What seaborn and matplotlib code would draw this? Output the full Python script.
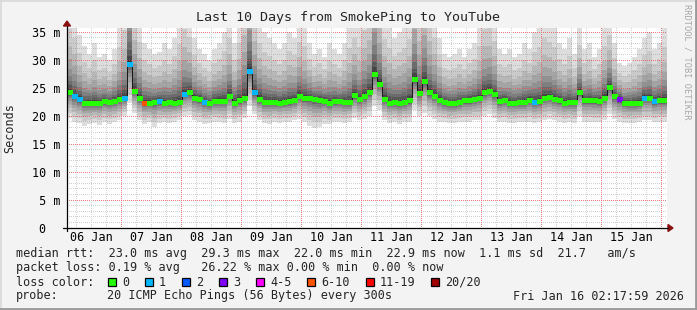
import matplotlib
matplotlib.use("Agg")
import matplotlib.pyplot as plt
import seaborn as sns
import numpy as np
import pandas as pd
from datetime import datetime, timedelta
import matplotlib.dates as mdates
from matplotlib.patches import Rectangle, Polygon
from matplotlib.lines import Line2D

# ---------------- data ----------------
title = "Last 10 Days from SmokePing to YouTube"
ylabel = "Seconds"
start = datetime(2026, 1, 6, 2, 17, 59)
step_hours = 2

median_ms = [24.2, 23.5, 23.0, 22.3, 22.4, 22.3, 22.4, 22.6, 22.5, 22.6,
             23.0, 23.3, 29.3, 24.5, 23.2, 22.4, 22.4, 22.5, 22.6, 22.4,
             22.5, 22.4, 22.5, 23.9, 24.2, 23.2, 23.0, 22.5, 22.3, 22.7,
             22.7, 22.7, 23.6, 22.4, 22.8, 23.2, 28.1, 24.2, 23.1, 22.5,
             22.5, 22.5, 22.4, 22.5, 22.6, 22.9, 23.6, 23.2, 23.2, 23.0,
             22.8, 22.7, 22.3, 22.6, 22.6, 22.5, 22.5, 23.7, 23.0, 23.5,
             24.3, 27.5, 25.8, 23.0, 22.4, 22.5, 22.3, 22.5, 22.8, 26.6,
             24.1, 26.2, 24.2, 23.6, 22.9, 22.5, 22.3, 22.3, 22.5, 22.8,
             22.8, 23.0, 23.2, 24.2, 24.5, 23.9, 22.6, 22.9, 22.4, 22.4,
             22.5, 22.5, 22.9, 22.5, 22.6, 23.2, 23.4, 23.0, 22.8, 22.4,
             22.5, 22.5, 24.3, 22.8, 22.8, 22.8, 22.6, 23.3, 25.2, 23.5,
             23.0, 22.4, 22.3, 22.3, 22.4, 23.2, 23.2, 22.6, 22.8, 22.8]

max_ms = [40, 38, 34.5, 32.5, 31, 33, 30.5, 31, 30, 32,
          36, 40, 60, 42, 37, 33, 32, 31, 31.5, 33,
          32, 34, 37, 40, 38, 34, 32, 31, 30, 32,
          33, 35, 38, 33, 37, 45, 55, 42, 37, 35,
          34, 33, 32, 33, 35, 34, 37, 36, 33, 31,
          32, 30.5, 33, 32, 31, 33, 36, 38, 36, 40,
          42, 55, 45, 38, 36, 34, 35, 36, 38, 50,
          42, 48, 42, 38, 34, 31, 30.5, 31, 32, 30.5,
          32, 33, 36, 40, 40, 37, 32, 31, 32, 30.5,
          31, 33, 32, 35, 36, 38, 37, 36, 33, 32,
          34, 31, 36, 32, 33, 30.5, 32, 36, 38, 33,
          29.5, 29, 29.5, 30.5, 32, 34, 35, 32, 33, 36]

min_ms = [19.6, 19.0, 18.7, 18.3, 18.5, 18.8, 18.4, 18.9, 18.6, 19.0,
          19.3, 20.0, 22.3, 20.6, 19.3, 18.6, 18.9, 18.0, 18.7, 18.9,
          18.8, 19.0, 19.3, 20.0, 20.1, 19.3, 19.0, 18.6, 18.8, 19.0,
          18.9, 18.7, 19.5, 18.8, 19.0, 19.6, 21.7, 20.3, 19.3, 18.8,
          18.6, 18.9, 18.8, 19.0, 18.9, 19.2, 19.5, 19.0, 18.2, 17.8,
          18.0, 18.6, 18.6, 18.9, 19.0, 18.8, 18.9, 19.7, 19.3, 19.5,
          20.0, 21.7, 21.1, 19.3, 18.8, 18.9, 18.6, 18.9, 19.0, 21.0,
          20.0, 20.6, 20.0, 19.5, 19.0, 18.9, 18.7, 18.8, 18.9, 19.0,
          19.0, 19.3, 19.3, 20.0, 20.4, 19.7, 18.9, 19.0, 18.8, 18.7,
          18.9, 18.9, 19.0, 18.8, 18.9, 19.3, 19.5, 19.3, 19.0, 18.8,
          18.9, 18.8, 20.0, 19.0, 19.0, 18.9, 18.9, 19.3, 20.4, 19.5,
          19.0, 18.8, 18.7, 18.8, 18.9, 19.3, 19.3, 18.9, 19.0, 19.0]

lost_pings = [0, 1, 1, 0, 0, 0, 0, 0, 0, 0,
              0, 1, 1, 0, 0, 7, 0, 0, 1, 0,
              0, 0, 0, 1, 0, 0, 0, 1, 0, 0,
              0, 0, 0, 0, 0, 0, 1, 1, 0, 0,
              0, 0, 0, 0, 0, 0, 0, 0, 0, 0,
              0, 0, 0, 0, 0, 0, 0, 0, 0, 0,
              0, 0, 0, 0, 0, 0, 0, 0, 0, 0,
              0, 0, 0, 0, 0, 0, 0, 0, 0, 0,
              0, 0, 0, 0, 0, 0, 0, 0, 0, 0,
              0, 0, 0, 1, 0, 0, 0, 0, 0, 0,
              0, 0, 0, 0, 0, 0, 0, 0, 0, 0,
              3, 0, 0, 0, 0, 1, 0, 1, 0, 0]

day_labels = ["06 Jan", "07 Jan", "08 Jan", "09 Jan", "10 Jan",
              "11 Jan", "12 Jan", "13 Jan", "14 Jan", "15 Jan"]
ytick_vals = [0, 5, 10, 15, 20, 25, 30, 35]
ytick_labels = ["0  ", " 5 m", "10 m", "15 m", "20 m", "25 m", "30 m", "35 m"]

loss_names = ["0", "1", "2", "3", "4-5", "6-10", "11-19", "20/20"]
loss_colors = ["#26ff00", "#00b8ff", "#0059ff", "#7e00ff",
               "#ff00ff", "#ff5500", "#ff0000", "#a10000"]

legend_line1 = "median rtt:  23.0 ms avg  29.3 ms max  22.0 ms min  22.9 ms now  1.1 ms sd  21.7   am/s"
legend_line2 = "packet loss: 0.19 % avg   26.22 % max 0.00 % min  0.00 % now"
legend_line3 = "loss color:"
probe_label = "probe:"
probe_text = "20 ICMP Echo Pings (56 Bytes) every 300s"
stamp_text = "Fri Jan 16 02:17:59 2026"
credit = "RRDTOOL / TOBI OETIKER"

# smoke layer profile (style): fraction of distance median->max / median->min
upper_frac = [1.0, 0.72, 0.52, 0.38, 0.27, 0.19, 0.13, 0.08, 0.045, 0.02]
lower_frac = [1.0, 0.80, 0.62, 0.46, 0.33, 0.23, 0.15, 0.09, 0.05, 0.02]

# ---------------- figure ----------------
sns.set_style("white")
plt.rcParams["font.family"] = ["DejaVu Sans Mono"]
W, H = 697, 310
fig = plt.figure(figsize=(W / 100, H / 100), dpi=100)
BG = "#f3f3f3"
fig.patch.set_facecolor(BG)

def fx(px):
    return px / W

def fy(py):
    return 1 - py / H

X0, X1, Y0, Y1 = 67, 667, 228, 28
PW, PH = X1 - X0, Y0 - Y1
PX_PER_MS = 5.6
ax = fig.add_axes([fx(X0), fy(Y0), PW / W, PH / H])
ax.set_facecolor("white")
for s in ax.spines.values():
    s.set_visible(False)

n = len(median_ms)
t = [start + timedelta(hours=step_hours * k) for k in range(n + 1)]
tn = mdates.date2num(t)
med = np.array(median_ms)
mx = np.array(max_ms)
mn = np.array(min_ms)

def ext(a):
    return np.append(a, a[-1])

for i in range(10):
    g = int(190 / 10 * (10 - (i + 1))) + 50
    col = "#%02x%02x%02x" % (g, g, g)
    lo = med - lower_frac[i] * (med - mn)
    hi = med + upper_frac[i] * (mx - med)
    ax.fill_between(tn, ext(lo), ext(hi), step="post", color=col,
                    linewidth=0, antialiased=False, zorder=1 + i * 0.01)

# dotted grid as a pixel overlay (1 px on / 1 px off, like rrdtool)
ymax = PH / PX_PER_MS
grid = np.zeros((PH, PW, 4))
minor_rgba = (0.55, 0.55, 0.55, 0.40)
major_rgba = (0.93, 0.30, 0.30, 0.72)
px_per_hour = PW / 240.0
d0 = datetime(2026, 1, 6)
for v in range(1, 36):
    r = int(PH - v * PX_PER_MS)
    if 0 <= r < PH:
        grid[r, 0::2] = major_rgba if v % 5 == 0 else minor_rgba
for h in range(6, 24 * 10 + 6, 6):
    d = d0 + timedelta(hours=h)
    c = int((d - start).total_seconds() / 3600.0 * px_per_hour)
    if 0 <= c < PW:
        grid[0::2, c] = major_rgba if h % 24 == 0 else minor_rgba
ax.imshow(grid, extent=(tn[0], tn[-1], 0, ymax), aspect="auto",
          interpolation="nearest", zorder=3)

# median line
df = pd.DataFrame({"t": tn, "median": ext(med)})
sns.lineplot(data=df, x="t", y="median", drawstyle="steps-post", color="#1a1a1a",
             linewidth=0.75, ax=ax, estimator=None, sort=False, zorder=4)

def bucket(l):
    if l <= 3:
        return l
    if l <= 5:
        return 4
    if l <= 10:
        return 5
    if l <= 19:
        return 6
    return 7

cols = [loss_colors[bucket(l)] for l in lost_pings]
ax.hlines(med, tn[:-1], tn[1:], colors=cols, linewidth=2.2, zorder=5,
          antialiased=False)

ax.set_xlim(tn[0], tn[-1])
ax.set_ylim(0, ymax)
ax.set_xlabel("")
ax.set_ylabel("")

ax.set_yticks(ytick_vals)
ax.set_yticklabels(ytick_labels)
noons = [mdates.date2num(d0 + timedelta(days=k, hours=12)) for k in range(10)]
ax.set_xticks(noons)
ax.set_xticklabels(day_labels)
ax.tick_params(axis="y", direction="out", length=3, width=0.8, pad=1.5,
               labelsize=8.5, colors="black")
ax.tick_params(axis="x", length=0, pad=2.5, labelsize=8.5, colors="black")

# axes lines and arrows
AX_C = "#000000"
AR_C = "#8b1010"
fig.add_artist(Line2D([fx(63), fx(668)], [fy(228), fy(228)], color=AX_C, lw=0.9))
fig.add_artist(Line2D([fx(67), fx(67)], [fy(231), fy(26)], color=AX_C, lw=0.9))
fig.add_artist(Polygon([[fx(668), fy(224.5)], [fx(673), fy(228)], [fx(668), fy(231.5)]],
                       closed=True, color=AR_C, transform=fig.transFigure))
fig.add_artist(Polygon([[fx(63.5), fy(26)], [fx(67), fy(21)], [fx(70.5), fy(26)]],
                       closed=True, color=AR_C, transform=fig.transFigure))

# texts
FS = 8.5
fig.text(fx(348), fy(18), title, ha="center", va="center", fontsize=9.6)
fig.text(fx(10), fy(128), ylabel, ha="center", va="center", rotation=90, fontsize=FS)
fig.text(fx(687), fy(4), credit, ha="center", va="top", rotation=270,
         fontsize=6.2, color="#a8a8a8")

fig.text(fx(16), fy(254), legend_line1, ha="left", va="center", fontsize=FS)
fig.text(fx(16), fy(268), legend_line2, ha="left", va="center", fontsize=FS)
fig.text(fx(16), fy(282), legend_line3, ha="left", va="center", fontsize=FS)
box_x = [108, 145, 182, 219, 256, 307, 366, 431]
for bx, name, c in zip(box_x, loss_names, loss_colors):
    fig.add_artist(Rectangle((fx(bx), fy(286)), 8 / W, 8 / H, transform=fig.transFigure,
                             facecolor=c, edgecolor="black", linewidth=0.9))
    fig.text(fx(bx + 14), fy(282), name, ha="left", va="center", fontsize=FS)
fig.text(fx(16), fy(296), probe_label, ha="left", va="center", fontsize=FS)
fig.text(fx(107), fy(296), probe_text, ha="left", va="center", fontsize=FS)
fig.text(fx(513), fy(296), stamp_text, ha="left", va="center", fontsize=FS)

# frame
fig.add_artist(Line2D([0, 1], [fy(0.5), fy(0.5)], color="#d8d8d8", lw=1.2))
fig.add_artist(Line2D([fx(0.5), fx(0.5)], [0, 1], color="#d8d8d8", lw=1.2))
fig.add_artist(Line2D([0, 1], [fy(308.8), fy(308.8)], color="#9a9a9a", lw=2.0))
fig.add_artist(Line2D([fx(695.8), fx(695.8)], [0, 1], color="#9a9a9a", lw=2.0))

fig.savefig("out.png", dpi=100, facecolor=fig.get_facecolor())
